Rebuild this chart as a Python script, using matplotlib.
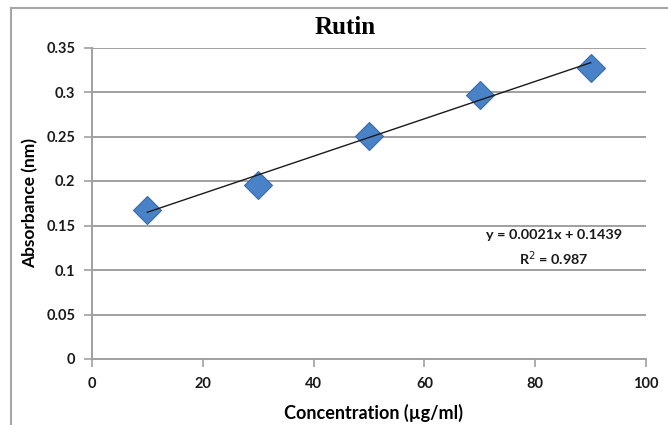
import matplotlib
matplotlib.use("Agg")
import matplotlib.pyplot as plt
import numpy as np
from matplotlib.patches import Rectangle

concentration = [10, 30, 50, 70, 90]
absorbance = [0.167, 0.196, 0.251, 0.297, 0.327]
x_ticks = [0, 20, 40, 60, 80, 100]
y_ticks = [0, 0.05, 0.1, 0.15, 0.2, 0.25, 0.3, 0.35]
y_tick_labels = ["0", "0.05", "0.1", "0.15", "0.2", "0.25", "0.3", "0.35"]
slope, intercept = 0.0021, 0.1439
equation = "y = 0.0021x + 0.1439"
r2_text = "R$^2$ = 0.987"

fig = plt.figure(figsize=(6.68, 4.25), dpi=100)
ax = fig.add_axes([92/668, 1-359/425, (646-92)/668, (359-47.5)/425])

# figure frame
fig.patches.append(Rectangle((11/668, -0.1), 1.2, 1.1 - 8/425,
                             transform=fig.transFigure, fill=False,
                             edgecolor="#a6a6a6", linewidth=1.5))

grid_c = "#a0a0a0"
for yv in y_ticks[1:]:
    ax.axhline(yv, color=grid_c, linewidth=1.4, zorder=1)

fx = np.array([concentration[0], concentration[-1]])
ax.plot(fx, slope * fx + intercept, color="#1a1a1a", linewidth=1.0, zorder=3)
ax.plot(concentration, absorbance, linestyle="none", marker="D", markersize=14.5,
        markerfacecolor="#4a82c8", markeredgecolor="#3a6aa8", markeredgewidth=0.8, zorder=2)

ax.set_xlim(0, 100)
ax.set_ylim(0, 0.35)
ax.set_xticks(x_ticks)
ax.set_yticks(y_ticks)
ax.set_yticklabels(y_tick_labels)
for s in ["top", "right"]:
    ax.spines[s].set_visible(False)
for s in ["left", "bottom"]:
    ax.spines[s].set_color(grid_c)
    ax.spines[s].set_linewidth(1.4)
ax.tick_params(axis="both", direction="out", length=6, width=1.2, color=grid_c,
               labelsize=10.5, labelcolor="#1a1a1a", pad=6)
for lab in ax.get_xticklabels() + ax.get_yticklabels():
    lab.set_fontfamily("Lato")
    lab.set_fontweight("bold")
ax.tick_params(axis="x", pad=7)

fig.text(345/668, 1 - 28/425, "Rutin", fontfamily="Liberation Serif", fontweight="bold",
         fontsize=18, ha="center", va="center")
ax.set_xlabel("Concentration (µg/ml)", fontfamily="Lato", fontweight="bold", fontsize=13)
ax.xaxis.set_label_coords((373 - 92) / 554, -(413 - 359) / 311.5)
ax.xaxis.label.set_va("center")
ax.set_ylabel("Absorbance (nm)", fontfamily="Lato", fontweight="bold", fontsize=12.5)
ax.yaxis.set_label_coords(-(92 - 30) / 554, (359 - 203.5) / 311.5)
ax.yaxis.label.set_va("center")

ax.text(0.834, 0.398, equation, transform=ax.transAxes, ha="center", va="center",
        fontfamily="Lato", fontweight="bold", fontsize=10.4, color="#1a1a1a")
ax.text(0.834, 0.322, r2_text, transform=ax.transAxes, ha="center", va="center",
        fontfamily="Lato", fontweight="bold", fontsize=10.4, color="#1a1a1a")

fig.savefig("out.png", dpi=100)
